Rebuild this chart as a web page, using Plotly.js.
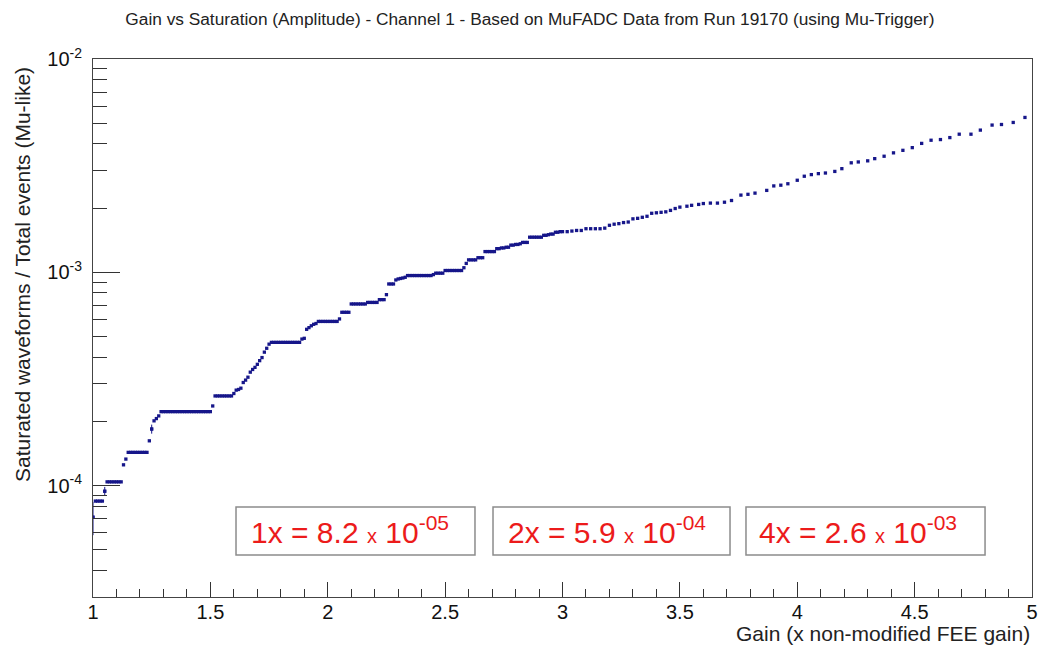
<!DOCTYPE html>
<html>
<head>
<meta charset="utf-8">
<script src="https://cdn.plot.ly/plotly-3.0.1.min.js"></script>
<style>html,body{margin:0;padding:0;background:#fff;}#chart{width:1041px;height:646px;}</style>
</head>
<body>
<div id="chart"></div>
<script>
// ---- data ----
const gainLow = [
  1.00,1.01,1.02,1.03,1.04,1.05,1.06,1.07,1.08,1.09,
  1.10,1.11,1.12,1.13,1.14,1.15,1.16,1.17,1.18,1.19,
  1.20,1.21,1.22,1.23,1.24,1.25,1.26,1.27,1.28,1.29,
  1.30,1.31,1.32,1.33,1.34,1.35,1.36,1.37,1.38,1.39,
  1.40,1.41,1.42,1.43,1.44,1.45,1.46,1.47,1.48,1.49,
  1.50,1.51,1.52,1.53,1.54,1.55,1.56,1.57,1.58,1.59,
  1.60,1.61,1.62,1.63,1.64,1.65,1.66,1.67,1.68,1.69,
  1.70,1.71,1.72,1.73,1.74,1.75,1.76,1.77,1.78,1.79,
  1.80,1.81,1.82,1.83,1.84,1.85,1.86,1.87,1.88,1.89,
  1.90,1.91,1.92,1.93,1.94,1.95,1.96,1.97,1.98,1.99
];
const ratioLow = [
  7.1e-5,8.45e-5,8.45e-5,8.45e-5,8.45e-5,9.4e-5,1.04e-4,1.04e-4,1.04e-4,1.04e-4,
  1.04e-4,1.04e-4,1.04e-4,1.25e-4,1.33e-4,1.43e-4,1.43e-4,1.43e-4,1.43e-4,1.43e-4,
  1.43e-4,1.43e-4,1.43e-4,1.43e-4,1.62e-4,1.84e-4,2.01e-4,2.06e-4,2.12e-4,2.22e-4,
  2.22e-4,2.22e-4,2.22e-4,2.22e-4,2.22e-4,2.22e-4,2.22e-4,2.22e-4,2.22e-4,2.22e-4,
  2.22e-4,2.22e-4,2.22e-4,2.22e-4,2.22e-4,2.22e-4,2.22e-4,2.22e-4,2.22e-4,2.22e-4,
  2.22e-4,2.36e-4,2.63e-4,2.63e-4,2.63e-4,2.63e-4,2.63e-4,2.63e-4,2.63e-4,2.63e-4,
  2.70e-4,2.80e-4,2.82e-4,2.86e-4,3.04e-4,3.12e-4,3.22e-4,3.40e-4,3.50e-4,3.58e-4,
  3.70e-4,3.85e-4,3.98e-4,4.22e-4,4.40e-4,4.60e-4,4.69e-4,4.69e-4,4.69e-4,4.69e-4,
  4.69e-4,4.69e-4,4.69e-4,4.69e-4,4.69e-4,4.69e-4,4.69e-4,4.69e-4,4.69e-4,4.86e-4,
  4.90e-4,5.40e-4,5.50e-4,5.61e-4,5.70e-4,5.75e-4,5.88e-4,5.88e-4,5.88e-4,5.88e-4
];
const gainMid = [
  2.00,2.01,2.02,2.03,2.04,2.05,2.06,2.07,2.08,2.09,
  2.10,2.11,2.12,2.13,2.14,2.15,2.16,2.17,2.18,2.19,
  2.20,2.21,2.22,2.23,2.24,2.25,2.26,2.27,2.28,2.29,
  2.30,2.31,2.32,2.33,2.34,2.35,2.36,2.37,2.38,2.39,
  2.40,2.41,2.42,2.43,2.44,2.45,2.46,2.47,2.48,2.49,
  2.50,2.51,2.52,2.53,2.54,2.55,2.56,2.57,2.58,2.59,
  2.60,2.61,2.62,2.63,2.64,2.65,2.66,2.67,2.68,2.69,
  2.70,2.71,2.72,2.73,2.74,2.75,2.76,2.77,2.78,2.79,
  2.80,2.81,2.82,2.83,2.84,2.85,2.86,2.87,2.88,2.89,
  2.90,2.91,2.92,2.93,2.94,2.95,2.96,2.97,2.98,2.99
];
const ratioMid = [
  5.88e-4,5.88e-4,5.88e-4,5.88e-4,5.88e-4,6.04e-4,6.49e-4,6.49e-4,6.49e-4,6.49e-4,
  7.10e-4,7.10e-4,7.10e-4,7.10e-4,7.10e-4,7.10e-4,7.10e-4,7.22e-4,7.22e-4,7.22e-4,
  7.22e-4,7.22e-4,7.44e-4,7.44e-4,7.44e-4,7.85e-4,8.81e-4,8.81e-4,8.81e-4,9.20e-4,
  9.30e-4,9.35e-4,9.40e-4,9.47e-4,9.65e-4,9.65e-4,9.65e-4,9.65e-4,9.65e-4,9.65e-4,
  9.65e-4,9.65e-4,9.65e-4,9.65e-4,9.65e-4,9.75e-4,9.90e-4,9.90e-4,9.90e-4,9.90e-4,
  1.019e-3,1.019e-3,1.019e-3,1.019e-3,1.019e-3,1.019e-3,1.019e-3,1.019e-3,1.05e-3,1.10e-3,
  1.143e-3,1.143e-3,1.143e-3,1.143e-3,1.17e-3,1.17e-3,1.17e-3,1.25e-3,1.25e-3,1.25e-3,
  1.25e-3,1.25e-3,1.29e-3,1.29e-3,1.30e-3,1.30e-3,1.31e-3,1.31e-3,1.34e-3,1.34e-3,
  1.35e-3,1.35e-3,1.36e-3,1.38e-3,1.38e-3,1.38e-3,1.46e-3,1.46e-3,1.46e-3,1.46e-3,
  1.46e-3,1.46e-3,1.49e-3,1.49e-3,1.50e-3,1.51e-3,1.51e-3,1.54e-3,1.54e-3,1.55e-3
];
const gainHigh = [
  3.00,3.02,3.04,3.06,3.08,3.10,3.12,3.14,3.16,3.18,
  3.20,3.22,3.24,3.26,3.28,3.30,3.32,3.34,3.36,3.38,
  3.40,3.42,3.44,3.46,
  3.48,3.50,3.53,3.55,3.58,3.60,3.63,3.66,3.69,3.72,
  3.76,3.79,3.82,3.87,3.90,3.93,3.96,4.00,4.03,4.06,
  4.09,4.12,4.16,4.19,4.23,4.26,4.30,4.33,4.37,4.41,
  4.45,4.49,4.53,4.57,4.61,4.65,4.69,4.74,4.78,4.83,
  4.87,4.92,4.97
];
const ratioHigh = [
  1.55e-3,1.55e-3,1.56e-3,1.57e-3,1.57e-3,1.60e-3,1.60e-3,1.60e-3,1.60e-3,1.61e-3,
  1.66e-3,1.68e-3,1.69e-3,1.71e-3,1.72e-3,1.78e-3,1.79e-3,1.81e-3,1.83e-3,1.89e-3,
  1.90e-3,1.91e-3,1.92e-3,1.95e-3,
  1.99e-3,2.02e-3,2.04e-3,2.06e-3,2.08e-3,2.10e-3,2.11e-3,2.11e-3,2.13e-3,2.17e-3,
  2.30e-3,2.32e-3,2.35e-3,2.42e-3,2.54e-3,2.56e-3,2.60e-3,2.70e-3,2.82e-3,2.87e-3,
  2.90e-3,2.92e-3,2.97e-3,3.06e-3,3.26e-3,3.29e-3,3.33e-3,3.41e-3,3.50e-3,3.63e-3,
  3.73e-3,3.84e-3,4.02e-3,4.16e-3,4.19e-3,4.28e-3,4.44e-3,4.44e-3,4.64e-3,4.90e-3,
  4.93e-3,5.04e-3,5.32e-3
];
// points whose vertical error bars are visible
const errGain  = [1.00, 1.05, 1.25];
const errRatio = [7.1e-5, 9.4e-5, 1.84e-4];
const errSize  = [1.25e-5, 0.45e-5, 0.9e-5];

// tick labels and annotation texts
const yTickVals   = [1e-4, 1e-3, 1e-2];
const yTickText   = ['10<sup>-4</sup>', '10<sup>-3</sup>', '10<sup>-2</sup>'];
const yMinorVals  = [3e-5,4e-5,5e-5,6e-5,7e-5,8e-5,9e-5,
                     2e-4,3e-4,4e-4,5e-4,6e-4,7e-4,8e-4,9e-4,
                     2e-3,3e-3,4e-3,5e-3,6e-3,7e-3,8e-3,9e-3];
const boxLabels = ['1x', '2x', '4x'];
const boxMant   = ['8.2', '5.9', '2.6'];
const boxExp    = ['-05', '-04', '-03'];

const chartTitle = 'Gain vs Saturation (Amplitude) - Channel 1 - Based on MuFADC Data from Run 19170 (using Mu-Trigger)';
const xTitle = 'Gain (x non-modified FEE gain)';
const yTitle = 'Saturated waveforms / Total events (Mu-like)';

// ---- build ----
const gain  = gainLow.concat(gainMid, gainHigh);
const ratio = ratioLow.concat(ratioMid, ratioHigh);
const FONT = 'Liberation Sans, Arial, Helvetica, sans-serif';
const MARK = '#16168a';

const traces = [
  {
    x: errGain, y: errRatio, type: 'scatter', mode: 'markers',
    marker: {symbol: 'square', size: 3, color: MARK},
    error_y: {type: 'data', array: errSize, visible: true, color: MARK, thickness: 1, width: 0},
    hoverinfo: 'skip', showlegend: false
  },
  {
    x: gain, y: ratio, type: 'scatter', mode: 'markers',
    marker: {symbol: 'square', size: 3.3, color: MARK, line: {width: 0}},
    showlegend: false
  }
];

// boxes in paper coordinates
const boxX = [[0.1523, 0.4068], [0.4260, 0.6784], [0.6954, 0.9500]];
const boxTextX = [0.1662, 0.4399, 0.7072];
const shapes = boxX.map(b => ({
  type: 'rect', xref: 'paper', yref: 'paper',
  x0: b[0], x1: b[1], y0: 0.0781, y1: 0.1673,
  line: {color: '#8c8c8c', width: 1.5}, fillcolor: '#ffffff', layer: 'above'
}));

const annotations = boxLabels.map((lab, i) => ({
  xref: 'paper', yref: 'paper', x: boxTextX[i], y: 0.1245,
  xanchor: 'left', yanchor: 'middle', showarrow: false,
  text: lab + ' = ' + boxMant[i] + ' <span style="font-size:20px">x</span> 10<sup>' + boxExp[i] + '</sup>',
  font: {family: FONT, size: 30, color: '#ec1b1b'}
}));
annotations.push({
  xref: 'paper', yref: 'paper', x: 1, y: (597 - 633) / 538, xanchor: 'right', yanchor: 'middle',
  showarrow: false, text: xTitle, font: {family: FONT, size: 21, color: '#222'}
});
annotations.push({
  xref: 'paper', yref: 'paper', x: (22 - 93) / 939, y: (597 - 275) / 538,
  xanchor: 'center', yanchor: 'middle', textangle: -90,
  showarrow: false, text: yTitle, font: {family: FONT, size: 21, color: '#222'}
});

const layout = {
  width: 1041, height: 646,
  margin: {l: 93, r: 9, t: 59, b: 49, pad: 0},
  paper_bgcolor: '#ffffff', plot_bgcolor: '#ffffff',
  title: {text: chartTitle, x: 0.509, xref: 'container', xanchor: 'center',
          y: 1 - 19 / 646, yref: 'container', yanchor: 'middle',
          font: {family: FONT, size: 17.3, color: '#222'}},
  xaxis: {
    range: [1, 5], tick0: 1, dtick: 0.5, ticks: 'inside', ticklen: 15, tickwidth: 1,
    tickcolor: '#333', showline: true, linecolor: '#444', linewidth: 1, mirror: true,
    showgrid: false, zeroline: false, ticklabelstandoff: -3,
    tickfont: {family: FONT, size: 20, color: '#111'},
    minor: {dtick: 0.1, tick0: 1, ticks: 'inside', ticklen: 8, tickcolor: '#333', tickwidth: 1, showgrid: false}
  },
  yaxis: {
    type: 'log', range: [Math.log10(3e-5), -2],
    tickmode: 'array', tickvals: yTickVals, ticktext: yTickText,
    ticks: 'inside', ticklen: 27, tickwidth: 1, tickcolor: '#333',
    showline: true, linecolor: '#444', linewidth: 1, mirror: true,
    showgrid: false, zeroline: false, ticklabelstandoff: 6,
    tickfont: {family: FONT, size: 20, color: '#111'},
    minor: {tickmode: 'array', tickvals: yMinorVals, ticks: 'inside', ticklen: 14,
            tickcolor: '#333', tickwidth: 1, showgrid: false}
  },
  shapes: shapes,
  annotations: annotations
};

Plotly.newPlot('chart', traces, layout, {displayModeBar: false, staticPlot: true});
</script>
</body>
</html>
